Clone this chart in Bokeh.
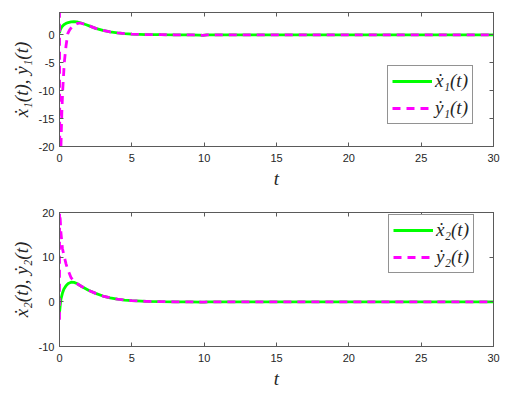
from bokeh.plotting import figure
from bokeh.layouts import column
from bokeh.models import LinearAxis, FixedTicker, Legend, LegendItem, Range1d
from bokeh.embed import file_html
from bokeh.resources import INLINE

# ---- data ----
t_x1 = [0, 0.05, 0.15, 0.3, 0.45, 0.6, 0.8, 1.0, 1.2, 1.5, 1.8, 2.1, 2.5, 3.0, 3.5, 4.0, 4.5, 5.0,
        6.0, 7.0, 8.0, 9.0, 9.7, 9.9, 10.2, 12, 15, 20, 25, 30]
x1dot = [0.3, 0.9, 1.4, 1.8, 2.05, 2.2, 2.33, 2.38, 2.33, 2.12, 1.85, 1.55, 1.15, 0.8, 0.52, 0.34,
         0.22, 0.14, 0.05, 0.02, 0.01, 0.0, -0.04, -0.08, 0.0, 0, 0, 0, 0, 0]

t_y1 = [0, 0.02, 0.1, 0.16, 0.22, 0.33, 0.45, 0.57, 0.7, 0.85, 1.0, 1.2, 1.35, 1.5, 1.8, 2.1, 2.5,
        3.0, 3.5, 4.0, 4.5, 5.0, 6.0, 7.0, 8.0, 9.0, 9.7, 9.9, 10.2, 12, 15, 20, 25, 30]
y1dot = [4.5, -24, -20, -14, -10, -5, -2, 0.2, 0.9, 1.4, 1.75, 2.0, 2.08, 2.08, 1.85, 1.55, 1.15,
         0.8, 0.52, 0.34, 0.22, 0.14, 0.05, 0.02, 0.01, 0.0, -0.04, -0.08, 0.0, 0, 0, 0, 0, 0]

t_x2 = [0, 0.05, 0.1, 0.2, 0.3, 0.45, 0.6, 0.8, 1.0, 1.2, 1.5, 2.0, 2.5, 3.0, 3.5, 4.0, 4.5, 5.0,
        6.0, 7.0, 8.0, 9.0, 9.8, 10.0, 10.3, 12, 15, 20, 25, 30]
x2dot = [-2.5, -0.8, 0.6, 1.9, 2.8, 3.6, 4.1, 4.38, 4.35, 4.1, 3.5, 2.6, 1.9, 1.3, 0.9, 0.6, 0.4,
         0.25, 0.1, 0.04, 0.01, 0.0, -0.05, -0.05, 0, 0, 0, 0, 0, 0]

t_y2 = [0, 0.005, 0.05, 0.1, 0.2, 0.3, 0.45, 0.6, 0.8, 1.0, 1.2, 1.5, 2.0, 2.5, 3.0, 3.5, 4.0, 4.5,
        5.0, 6.0, 7.0, 8.0, 9.0, 9.8, 10.0, 10.3, 12, 15, 20, 25, 30]
y2dot = [-4, 20, 18.5, 15.5, 12, 10.5, 8.5, 7.0, 5.4, 4.6, 4.1, 3.5, 2.6, 1.9, 1.3, 0.9, 0.6, 0.4,
         0.25, 0.1, 0.04, 0.01, 0.0, -0.05, -0.05, 0, 0, 0, 0, 0, 0]

x_ticks = [0, 5, 10, 15, 20, 25, 30]
x_tick_labels = ["0", "5", "10", "15", "20", "25", "30"]
y1_ticks = [-20, -15, -10, -5, 0]
y1_tick_labels = ["-20", "-15", "-10", "-5", "0"]
y2_ticks = [-10, 0, 10, 20]
y2_tick_labels = ["-10", "0", "10", "20"]

x_label = "t"
y1_label = "ẋ₁(t), ẏ₁(t)"
y2_label = "ẋ₂(t), ẏ₂(t)"
leg1 = ["ẋ₁(t)", "ẏ₁(t)"]
leg2 = ["ẋ₂(t)", "ẏ₂(t)"]

GREEN = "#00ff00"
MAGENTA = "#ff00ff"
AXC = "#5a5a5a"
TXT = "#262626"
SERIF = "Liberation Serif"
SANS = "Liberation Sans"


def style_axis(ax, ticks, labels, show_labels=True):
    ax.ticker = FixedTicker(ticks=ticks)
    if show_labels:
        ax.major_label_overrides = {v: s for v, s in zip(ticks, labels)}
    else:
        ax.major_label_overrides = {v: "" for v in ticks}
    ax.axis_line_color = AXC
    ax.axis_line_width = 1
    ax.major_tick_line_color = AXC
    ax.major_tick_in = 4
    ax.major_tick_out = 0
    ax.minor_tick_line_color = None
    ax.major_label_text_font = SANS
    ax.major_label_text_font_size = "11px"
    ax.major_label_text_color = TXT


def make(ylo, yhi, yticks, ylabels, ylabel, tA, yA, tB, yB, legtxt, legloc, top_border, bottom_border):
    p = figure(frame_width=434, frame_height=134, output_backend="svg", toolbar_location=None,
               x_range=Range1d(0, 30), y_range=Range1d(ylo, yhi),
               min_border_left=59, min_border_right=20,
               min_border_top=top_border, min_border_bottom=bottom_border)
    p.grid.visible = False
    p.outline_line_color = AXC
    p.background_fill_color = "white"
    p.border_fill_color = "white"

    style_axis(p.xaxis[0], x_ticks, x_tick_labels)
    style_axis(p.yaxis[0], yticks, ylabels)
    p.xaxis.major_label_standoff = 7
    p.yaxis.major_label_standoff = 5

    p.xaxis.axis_label = x_label
    p.xaxis.axis_label_text_font = SERIF
    p.xaxis.axis_label_text_font_style = "italic"
    p.xaxis.axis_label_text_font_size = "19px"
    p.xaxis.axis_label_text_color = TXT
    p.xaxis.axis_label_standoff = 3

    p.yaxis.axis_label = ylabel
    p.yaxis.axis_label_text_font = SERIF
    p.yaxis.axis_label_text_font_style = "italic"
    p.yaxis.axis_label_text_font_size = "19px"
    p.yaxis.axis_label_text_color = TXT
    p.yaxis.axis_label_standoff = 4

    top_ax = LinearAxis()
    style_axis(top_ax, x_ticks, x_tick_labels, show_labels=False)
    top_ax.major_label_standoff = 0
    top_ax.major_label_text_font_size = "1px"
    p.add_layout(top_ax, "above")
    right_ax = LinearAxis()
    style_axis(right_ax, yticks, ylabels, show_labels=False)
    right_ax.major_label_standoff = 0
    right_ax.major_label_text_font_size = "1px"
    p.add_layout(right_ax, "right")

    rA = p.line(tA, yA, line_color=GREEN, line_width=2.8)
    rB = p.line(tB, yB, line_color=MAGENTA, line_width=2.8, line_dash="8 6")

    leg = Legend(items=[LegendItem(label=legtxt[0], renderers=[rA]),
                        LegendItem(label=legtxt[1], renderers=[rB])],
                 location=legloc)
    leg.margin = 0
    leg.padding = 4
    leg.spacing = 5
    leg.glyph_width = 40
    leg.glyph_height = 20
    leg.label_height = 20
    leg.label_standoff = 3
    leg.label_text_font = SERIF
    leg.label_text_font_style = "italic"
    leg.label_text_font_size = "19px"
    leg.label_text_color = TXT
    leg.border_line_color = TXT
    leg.border_line_width = 0.8
    leg.background_fill_color = "white"
    leg.background_fill_alpha = 1
    p.add_layout(leg, "center")
    return p


p1 = make(-20, 4, y1_ticks, y1_tick_labels, y1_label, t_x1, x1dot, t_y1, y1dot, leg1,
          (328, 22), 12, 46)
p2 = make(-10, 20, y2_ticks, y2_tick_labels, y2_label, t_x2, x2dot, t_y2, y2dot, leg2,
          (329, 73), 20, 46)

layout = column(p1, p2)
open("out.html", "w").write(file_html(layout, INLINE))
